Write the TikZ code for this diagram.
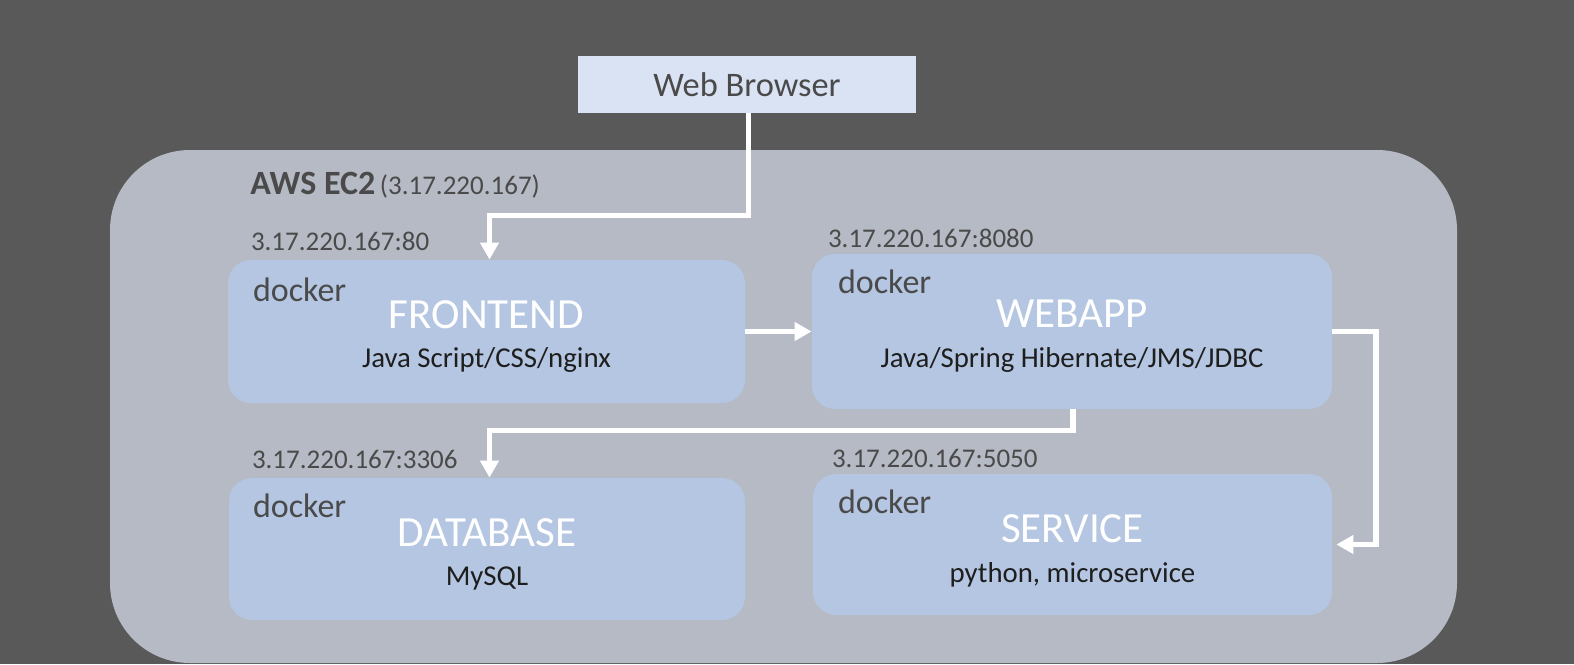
\documentclass[tikz,border=0pt]{standalone}
\usepackage{fontspec}
\setmainfont{Carlito}
\usetikzlibrary{arrows.meta,positioning}

\definecolor{bgdark}{RGB}{89,89,89}
\definecolor{hostgray}{RGB}{181,186,196}
\definecolor{dockblue}{RGB}{180,198,225}
\definecolor{browserblue}{RGB}{218,227,243}
\definecolor{labelgray}{RGB}{74,74,74}
\definecolor{subblack}{RGB}{30,30,30}

\tikzset{
  dockbox/.style={rectangle, rounded corners=11.5pt, fill=dockblue, inner sep=0pt},
  wire/.style={draw=white, line width=2.8pt, -{Triangle[width=9pt,length=8.5pt]}},
  dockertxt/.style={anchor=base west, inner sep=0pt, text=labelgray, font=\fontsize{17}{19}\selectfont},
  iptxt/.style={anchor=base west, inner sep=0pt, text=labelgray, font=\fontsize{13.5}{15}\selectfont},
  titletxt/.style={anchor=base, inner sep=0pt, text=white, font=\fontsize{21.5}{24}\selectfont},
  subtxt/.style={anchor=base, inner sep=0pt, text=subblack, font=\fontsize{14.4}{16}\selectfont},
}

\begin{document}
\begin{tikzpicture}[x=0.5pt,y=0.5pt,yscale=-1,xscale=1]
%set diagram: 1574 x 664
\fill [bgdark] (0,0) rectangle (1574,664);
\useasboundingbox (0,0) rectangle (1574,664);

%Shape: Rectangle [host]
\fill [hostgray, rounded corners=40pt] (110,150) rectangle (1457,663);

%Shape: Rectangle [browser]
\node (browser) [rectangle, fill=browserblue, minimum width=169pt, minimum height=28.5pt, inner sep=0pt, text=labelgray, font=\fontsize{17.2}{19}\selectfont] at (747,84.5) {Web Browser};

% Text Node
\node (hostlbl) [anchor=base west, inner sep=0pt, text=labelgray] at (250,194) {{\bfseries\fontsize{17}{19}\selectfont AWS EC2} \fontsize{13.5}{15}\selectfont(3.17.220.167)};

%Shape: Rectangle [containers]
\node (frontend) [dockbox, minimum width=258.5pt, minimum height=71.5pt] at (486.5,331.5) {};
\node (webapp) [dockbox, minimum width=260pt, minimum height=77.5pt] at (1072,331.5) {};
\node (database) [dockbox, minimum width=258pt, minimum height=71pt] at (487,549) {};
\node (service) [dockbox, minimum width=259.5pt, minimum height=70.5pt] at (1072.5,544.5) {};

% Text Node
\node (frontendip) [iptxt] at ([xshift=11.5pt,yshift=-4.5pt]frontend.north west) {3.17.220.167:80};
\node (frontenddk) [dockertxt] at ([xshift=12.5pt,yshift=21pt]frontend.north west) {docker};
\node (frontendT) [titletxt] at ([yshift=-1.75pt]frontend.center) {FRONTEND};
\node (frontendS) [subtxt] at ([yshift=17.75pt]frontend.center) {Java Script/CSS/nginx};
% Text Node
\node (webappip) [iptxt] at ([xshift=8pt,yshift=-3pt]webapp.north west) {3.17.220.167:8080};
\node (webappdk) [dockertxt] at ([xshift=13pt,yshift=20pt]webapp.north west) {docker};
\node (webappT) [titletxt] at ([yshift=-2.25pt]webapp.center) {WEBAPP};
\node (webappS) [subtxt] at ([yshift=17.75pt]webapp.center) {Java/Spring Hibernate/JMS/JDBC};
% Text Node
\node (databaseip) [iptxt] at ([xshift=11.5pt,yshift=-4.5pt]database.north west) {3.17.220.167:3306};
\node (databasedk) [dockertxt] at ([xshift=12pt,yshift=20pt]database.north west) {docker};
\node (databaseT) [titletxt] at ([yshift=-1.5pt]database.center) {DATABASE};
\node (databaseS) [subtxt] at ([yshift=18pt]database.center) {MySQL};
% Text Node
\node (serviceip) [iptxt] at ([xshift=9.5pt,yshift=-3pt]service.north west) {3.17.220.167:5050};
\node (servicedk) [dockertxt] at ([xshift=12.5pt,yshift=20pt]service.north west) {docker};
\node (serviceT) [titletxt] at ([yshift=-1.25pt]service.center) {SERVICE};
\node (serviceS) [subtxt] at ([yshift=18.75pt]service.center) {python, microservice};

%Straight Lines [connectors]
\coordinate (bend1) at (489.5,215.5);
\draw [wire] (browser.south -| 748.5,0) |- (bend1) -- (bend1 |- frontend.north);
\draw [wire] (frontend.east) -- (webapp.west);
\coordinate (bend2) at (1073,430.5);
\coordinate (bend3) at (489.5,430.5);
\draw [wire] (webapp.south -| bend2) -- (bend2) -- (bend3) -- (bend3 |- database.north);
\coordinate (bend4) at (1376,333);
\draw [wire] (webapp.east) -- (webapp.east -| bend4) -- (bend4 |- service.east) -- ([xshift=2pt]service.east);
\end{tikzpicture}
\end{document}
